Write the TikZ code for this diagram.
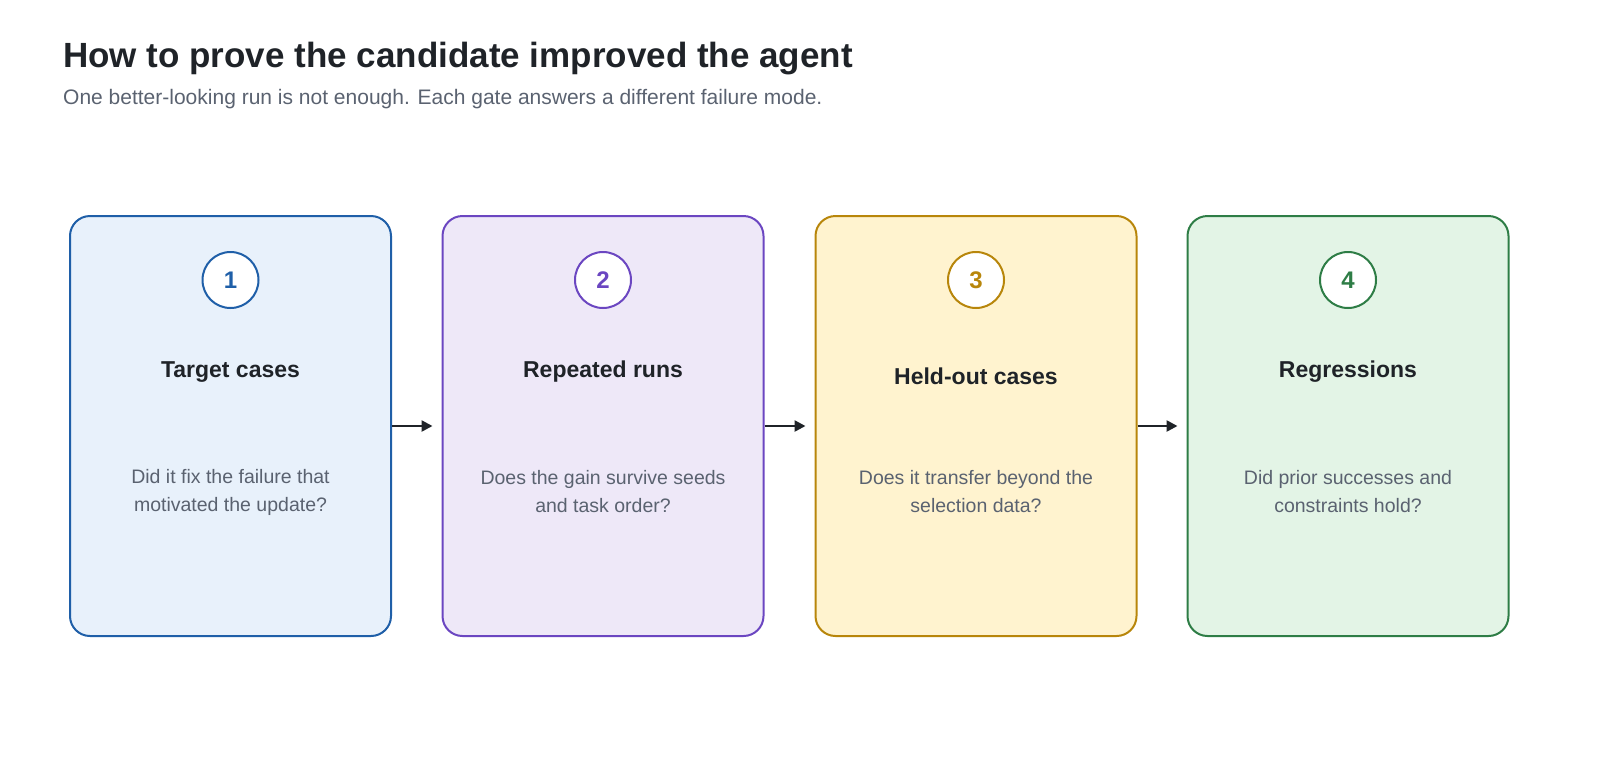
\documentclass[tikz,border=0pt]{standalone}
\usepackage{fontspec}
\setmainfont{Liberation Sans}
\usetikzlibrary{arrows.meta}
\definecolor{ink}{HTML}{1F2328}
\definecolor{sub}{HTML}{5A6270}
\definecolor{bA}{HTML}{1F5FA8}\definecolor{fA}{HTML}{E8F1FB}
\definecolor{bB}{HTML}{6B46C1}\definecolor{fB}{HTML}{EEE8F8}
\definecolor{bC}{HTML}{B8860B}\definecolor{fC}{HTML}{FFF3CF}
\definecolor{bD}{HTML}{2E7D46}\definecolor{fD}{HTML}{E3F4E6}
\begin{document}
\begin{tikzpicture}[x=1pt,y=-1pt,
 card/.style={draw=#1,line width=2pt,rounded corners=20pt,minimum width=321pt,minimum height=420pt,inner sep=0pt},
 num/.style={circle,draw=#1,line width=2pt,fill=white,minimum size=56pt,inner sep=0pt,text=#1,font=\fontsize{24}{28}\selectfont\bfseries},
 ttl/.style={font=\fontsize{23}{27}\selectfont\bfseries,text=ink},
 body/.style={font=\fontsize{19.5}{28}\selectfont,text=sub,align=center},
 arr/.style={-{Triangle[length=11pt,width=11pt]},line width=2.5pt,draw=ink}]
\clip (0,0) rectangle (1600,780);
\useasboundingbox (0,0) rectangle (1600,780);
\node[anchor=base west,font=\fontsize{35}{40}\selectfont\bfseries,text=ink,inner sep=0pt] (title) at (63,67) {How to prove the candidate improved the agent};
\node[anchor=base west,font=\fontsize{21}{25}\selectfont,text=sub,inner sep=0pt] (subt) at (63,104) {One better-looking run is not enough. Each gate answers a different failure mode.};
\foreach \i/\x/\c/\t/\b/\ty in {
 1/230.5/A/Target cases/{Did it fix the failure that\\motivated the update?}/372,
 2/603/B/Repeated runs/{Does the gain survive seeds\\and task order?}/372,
 3/976/C/Held-out cases/{Does it transfer beyond the\\selection data?}/376,
 4/1348/D/Regressions/{Did prior successes and\\constraints hold?}/372}{
 \node[card=b\c,fill=f\c] (card\i) at (\x,426) {};
 \node[num=b\c] (n\i) at (\x,280) {\i};
 \node[ttl] (t\i) at (\x,\ty) {\t};
 \node[body] (d\i) at (\x,492) {\b};
}
\draw[arr] (card1.east) -- ([xshift=-9pt]card2.west);
\draw[arr] (card2.east) -- ([xshift=-9pt]card3.west);
\draw[arr] (card3.east) -- ([xshift=-9pt]card4.west);
\end{tikzpicture}
\end{document}
